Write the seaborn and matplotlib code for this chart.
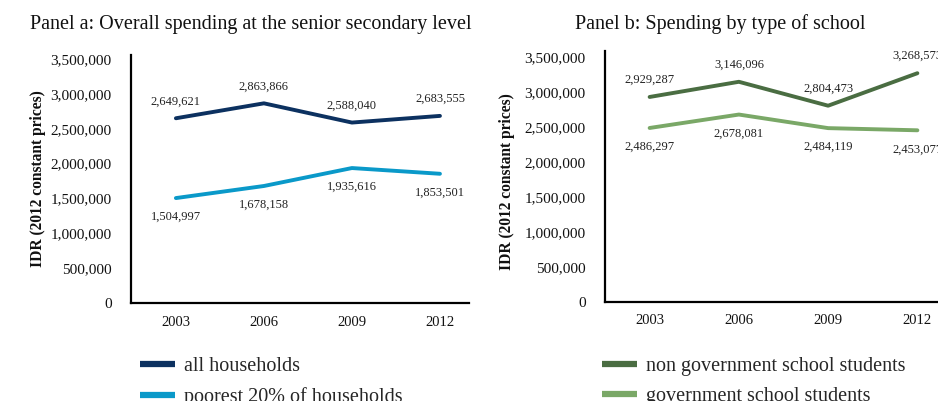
import matplotlib
matplotlib.use("Agg")
import matplotlib.pyplot as plt
import seaborn as sns
import pandas as pd

years = ["2003", "2006", "2009", "2012"]

all_households = [2649621, 2863866, 2588040, 2683555]
poorest_20 = [1504997, 1678158, 1935616, 1853501]

non_gov_students = [2929287, 3146096, 2804473, 3268573]
gov_students = [2486297, 2678081, 2484119, 2453077]

panel_a_series = {"all households": all_households,
                  "poorest 20% of households": poorest_20}
panel_b_series = {"non government school students": non_gov_students,
                  "government school students": gov_students}

palette_a = {"all households": "#0c3160",
             "poorest 20% of households": "#0a99c9"}
palette_b = {"non government school students": "#4a6d42",
             "government school students": "#7aa867"}

# which side of the line the value labels sit on
label_side_a = {"all households": 1, "poorest 20% of households": -1}
label_side_b = {"non government school students": 1, "government school students": -1}


def to_long(series):
    rows = []
    for name, vals in series.items():
        for i, (yr, v) in enumerate(zip(years, vals)):
            rows.append({"pos": i, "year": yr, "series": name, "value": v})
    return pd.DataFrame(rows)


sns.set_theme(style="white")
plt.rcParams["font.family"] = ["Liberation Serif", "DejaVu Serif"]

fig = plt.figure(figsize=(9.38, 4.01), dpi=100)
ax_a = fig.add_axes([131 / 938, 1 - 303 / 401, 338 / 938, 248 / 401])
ax_b = fig.add_axes([605 / 938, 1 - 302 / 401, 357 / 938, 251 / 401])


def draw_panel(ax, series, palette, sides, xlim, ytop, ylab_x, ylab_y):
    df = to_long(series)
    sns.lineplot(data=df, x="pos", y="value", hue="series", palette=palette,
                 linewidth=2.8, ax=ax, legend=True)
    for name, vals in series.items():
        for i, v in enumerate(vals):
            off = 17 if sides[name] > 0 else -19
            ax.annotate(f"{v:,}", (i, v), xytext=(0, off), textcoords="offset pixels",
                        ha="center", va="center", fontsize=9, color="#222222")
    ax.set_xlim(*xlim)
    ax.set_ylim(0, ytop)
    ax.set_xticks(range(len(years)))
    ax.set_xticklabels(years)
    ax.set_yticks(range(0, 3500001, 500000))
    ax.set_yticklabels([f"{t:,}" for t in range(0, 3500001, 500000)])
    ax.tick_params(axis="x", length=0, pad=9, labelsize=10.5, colors="#111111")
    ax.tick_params(axis="y", length=0, pad=14, labelsize=11, colors="#111111")
    ax.set_xlabel("")
    ax.set_ylabel("IDR (2012 constant prices)", fontsize=11.2, fontweight="bold",
                  color="#111111")
    ax.yaxis.set_label_coords(ylab_x, ylab_y)
    for s in ["top", "right"]:
        ax.spines[s].set_visible(False)
    for s in ["left", "bottom"]:
        ax.spines[s].set_color("black")
        ax.spines[s].set_linewidth(1.6)
    handles, labels = ax.get_legend_handles_labels()
    ax.get_legend().remove()
    return handles, labels


h_a, l_a = draw_panel(ax_a, panel_a_series, palette_a, label_side_a,
                      (-0.51, 3.33), 3557000, -0.250, 0.5)
h_b, l_b = draw_panel(ax_b, panel_b_series, palette_b, label_side_b,
                      (-0.5, 3.5), 3586000, -0.252, 0.48)

for h, l, x in [(h_a, l_a, 140 / 938), (h_b, l_b, 602 / 938)]:
    leg = fig.legend(h, l, loc="upper left", bbox_to_anchor=(x, 1 - 357 / 401),
                     frameon=False, fontsize=14.5, handlelength=1.75, handletextpad=0.45,
                     labelspacing=0.55, borderpad=0, borderaxespad=0)
    for line in leg.get_lines():
        line.set_linewidth(4.5)
        line.set_solid_capstyle("butt")

fig.text(251 / 938, 1 - 24 / 401, "Panel a: Overall spending at the senior secondary level",
         ha="center", va="center", fontsize=14.5, color="#111111")
fig.text(720 / 938, 1 - 24 / 401, "Panel b: Spending by type of school",
         ha="center", va="center", fontsize=14.5, color="#111111")

fig.savefig("out.png", dpi=100, facecolor="white")
